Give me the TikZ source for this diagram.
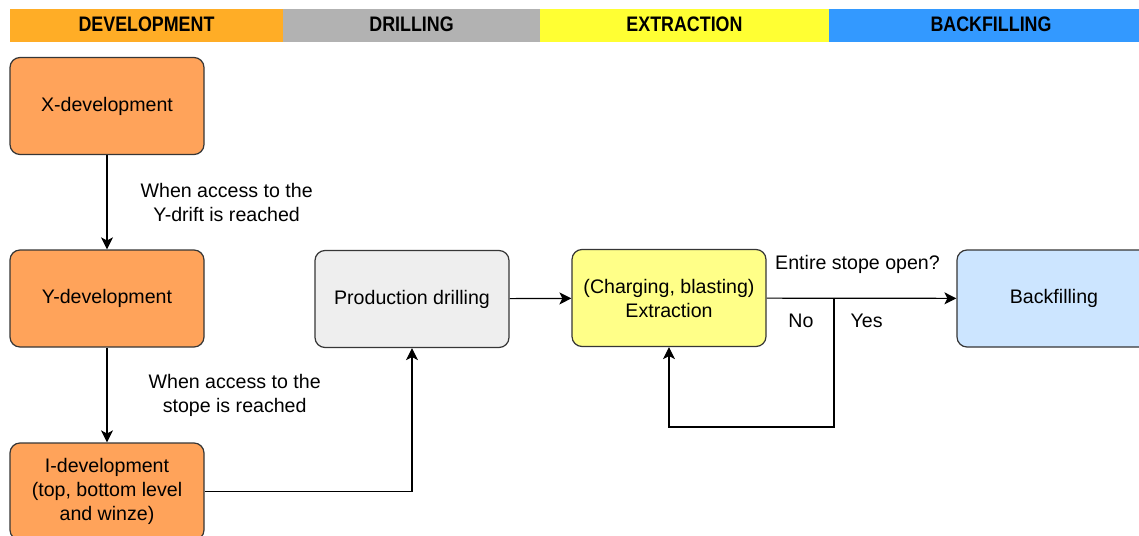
\documentclass[tikz,border=0pt]{standalone}
\usepackage{fontspec}
\setmainfont{Liberation Sans}
\newfontfamily\hdrfont[FakeStretch=0.85]{Liberation Sans}
\usetikzlibrary{arrows.meta}
\pgfdeclarelayer{nodelayer}
\pgfdeclarelayer{edgelayer}
\pgfsetlayers{edgelayer,nodelayer,main}
\definecolor{hdrorange}{RGB}{255,173,38}
\definecolor{hdrgray}{RGB}{178,178,178}
\definecolor{hdryellow}{RGB}{255,255,51}
\definecolor{hdrblue}{RGB}{51,153,255}
\definecolor{boxorange}{RGB}{255,163,90}
\definecolor{boxgray}{RGB}{238,238,238}
\definecolor{boxyellow}{RGB}{255,255,136}
\definecolor{boxblue}{RGB}{204,229,255}
\definecolor{boxline}{RGB}{54,54,54}
\tikzstyle{header}=[draw=none, inner sep=0, outer sep=0, minimum height=16.5pt, text depth=1.5pt, font=\hdrfont\bfseries\fontsize{10.5}{12}\selectfont]
\tikzstyle{box}=[draw=boxline, line width=0.6pt, rounded corners=5pt, minimum width=97pt, minimum height=48.5pt, align=center, font=\fontsize{9.8}{12}\selectfont]
\tikzstyle{dev box}=[box, fill=boxorange]
\tikzstyle{drill box}=[box, fill=boxgray]
\tikzstyle{extr box}=[box, fill=boxyellow]
\tikzstyle{back box}=[box, fill=boxblue]
\tikzstyle{lbl}=[inner sep=0, align=center, font=\fontsize{9.8}{12}\selectfont]
\tikzstyle{flow}=[draw=black, line width=0.6pt, -{Stealth[length=6pt, width=6pt, inset=1.5pt]}]

\begin{document}
\begin{tikzpicture}[x=0.5pt, y=-0.5pt]
	\useasboundingbox (0, 0) rectangle (1139, 535);
	\begin{pgfonlayer}{nodelayer}
		\node [header, fill=hdrorange, minimum width=136.5pt] (h0) at (146.5, 25.5) {DEVELOPMENT};
		\node [header, fill=hdrgray, minimum width=128.5pt] (h1) at (411.5, 25.5) {DRILLING};
		\node [header, fill=hdryellow, minimum width=144.5pt] (h2) at (684.5, 25.5) {EXTRACTION};
		\node [header, fill=hdrblue, minimum width=162pt] (h3) at (991, 25.5) {BACKFILLING};
		\node [dev box] (xdev) at (107, 106) {X-development};
		\node [dev box] (ydev) at (107, 298.5) {Y-development};
		\node [dev box] (idev) at (107, 491.5) {I-development\\(top, bottom level\\and winze)};
		\node [drill box] (prod) at (412, 299) {Production drilling};
		\node [extr box] (extr) at (669, 298) {(Charging, blasting)\\Extraction};
		\node [back box] (back) at (1054, 298.5) {Backfilling};
		\coordinate (split) at (834, 298);
		\coordinate (loop) at (834, 427);
	\end{pgfonlayer}
	\begin{pgfonlayer}{edgelayer}
		\draw [style=flow] (xdev) to node [lbl, right=16.5pt] {When access to the\\Y-drift is reached} (ydev);
		\draw [style=flow] (ydev) to node [lbl, right=20.5pt] {When access to the\\stope is reached} (idev);
		\draw [style=flow] (idev.east) -| (prod.south);
		\draw [style=flow] (prod) to (extr);
		\draw [style=flow] (extr) to node [lbl, above=12pt, xshift=-2pt] {Entire stope open?} (back);
		\draw [style=flow] (split) -- node [lbl, pos=0.18, left=10pt] {No} node [lbl, pos=0.18, right=8pt] {Yes} (loop) -| (extr.south);
	\end{pgfonlayer}
\end{tikzpicture}
\end{document}
